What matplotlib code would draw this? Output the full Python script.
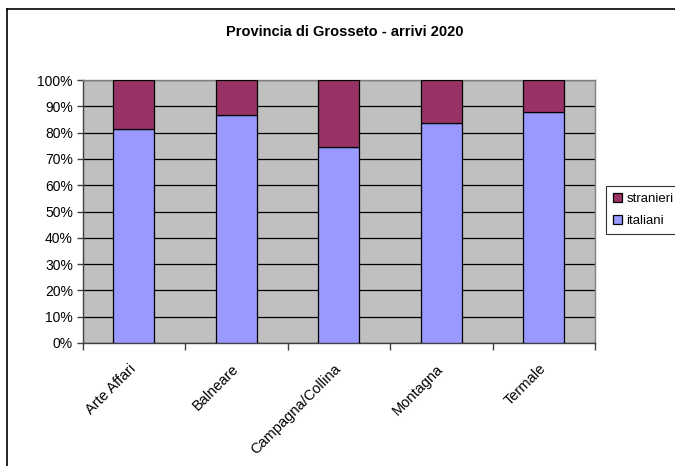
import matplotlib
matplotlib.use("Agg")
import matplotlib.pyplot as plt
from matplotlib.lines import Line2D
from matplotlib.ticker import FixedLocator, PercentFormatter

plt.rcParams['font.family'] = ['Liberation Sans', 'DejaVu Sans']

categories = ["Arte Affari", "Balneare", "Campagna/Collina", "Montagna", "Termale"]
italiani = [81.2, 86.6, 74.4, 83.6, 88.0]
stranieri = [100 - v for v in italiani]
yticks = [0, 10, 20, 30, 40, 50, 60, 70, 80, 90, 100]

W, H = 675, 466
fig = plt.figure(figsize=(W / 100, H / 100), dpi=100)
ax = fig.add_axes([82.7 / W, 1 - 343 / H, (595 - 82.7) / W, (343 - 80) / H])
ax.set_facecolor('#C0C0C0')

x = list(range(len(categories)))
b1 = ax.bar(x, italiani, width=0.4, color='#9999FF', edgecolor='black', linewidth=0.9, label='italiani', zorder=3)
b2 = ax.bar(x, stranieri, bottom=italiani, width=0.4, color='#993366', edgecolor='black', linewidth=0.9, label='stranieri', zorder=3)

ax.set_xlim(-0.5, len(categories) - 0.5)
ax.set_ylim(0, 100)
ax.set_yticks(yticks)
ax.yaxis.set_major_formatter(PercentFormatter(decimals=0))
ax.yaxis.grid(True, color='black', linewidth=0.9, zorder=1)
ax.set_axisbelow(True)

ax.xaxis.set_major_locator(FixedLocator([i - 0.5 for i in range(len(categories) + 1)]))
ax.xaxis.set_major_formatter(plt.NullFormatter())
ax.xaxis.set_minor_locator(FixedLocator(x))
ax.set_xticklabels(categories, minor=True, rotation=45, ha='right', va='center', rotation_mode='anchor', fontsize=10.5)
ax.tick_params(axis='x', which='minor', length=0, pad=17)
ax.tick_params(axis='x', which='major', length=5, direction='out', color='#404040', width=1)
ax.tick_params(axis='y', length=4, direction='out', color='#404040', width=1, labelsize=10, pad=3)

for side in ['top', 'right']:
    ax.spines[side].set_color('#808080')
    ax.spines[side].set_linewidth(1)
for side in ['left', 'bottom']:
    ax.spines[side].set_color('#404040')
    ax.spines[side].set_linewidth(1)

fig.text(345 / W, 1 - 32 / H, 'Provincia di Grosseto - arrivi 2020', ha='center', va='center',
         fontsize=10.5, fontweight='bold')

leg = fig.legend(handles=[b2, b1], labels=['stranieri', 'italiani'], loc='upper left',
                 bbox_to_anchor=(606 / W, 1 - 186 / H), frameon=True, fancybox=False,
                 edgecolor='black', fontsize=9.5, handlelength=0.7, handleheight=0.7,
                 handletextpad=0.3, borderpad=0.55, labelspacing=0.7, borderaxespad=0)
leg.get_frame().set_linewidth(0.8)

fig.add_artist(Line2D([6.5 / W, 6.5 / W], [0, 1 - 9 / H], color='black', linewidth=1.2, transform=fig.transFigure))
fig.add_artist(Line2D([6.5 / W, 1], [1 - 9 / H, 1 - 9 / H], color='black', linewidth=1.2, transform=fig.transFigure))

fig.savefig('out.png', dpi=100, facecolor='white')
